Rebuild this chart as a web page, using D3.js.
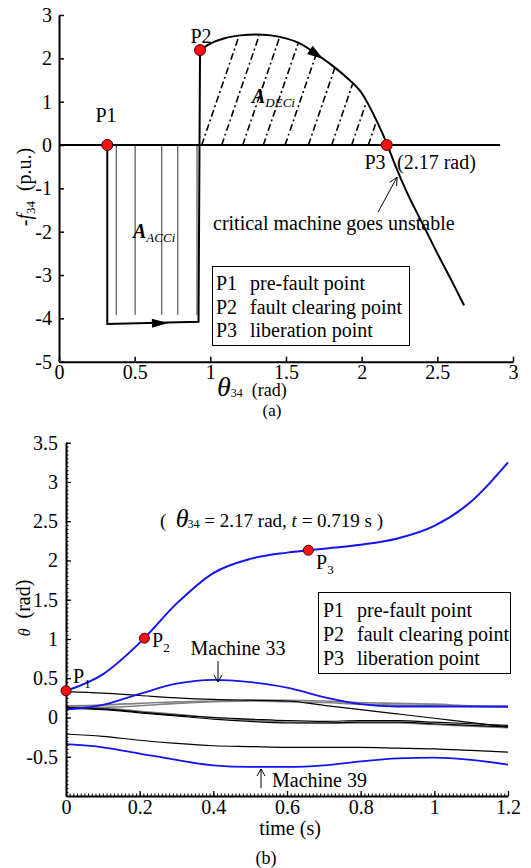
<!DOCTYPE html>
<html>
<head>
<meta charset="utf-8">
<script src="https://cdn.jsdelivr.net/npm/d3@7"></script>
<style>
  body { margin: 0; background: #fff; }
  svg { font-family: "Liberation Serif", "Times New Roman", serif; }
</style>
</head>
<body>
<svg width="531" height="868"></svg>
<script>
// ---------- panel (a) : -f34 vs theta34 ----------
const thetaTicksA = [0, 0.5, 1, 1.5, 2, 2.5, 3];
const fTicksA = [-5, -4, -3, -2, -1, 0, 1, 2, 3];

// fault-on trajectory (P1 -> down -> across -> up to P2)
const accTheta = [0.319, 0.319, 0.922, 0.932];
const accF     = [0, -4.13, -4.08, 2.19];

// post-fault trajectory from P2 through P3
const decTheta = [0.932, 1.0, 1.1, 1.2, 1.3, 1.4, 1.5, 1.6, 1.7, 1.8, 1.9, 2.0, 2.1, 2.17, 2.22, 2.3, 2.4, 2.5, 2.6, 2.677];
const decF     = [2.19, 2.34, 2.47, 2.53, 2.55, 2.53, 2.46, 2.33, 2.10, 1.85, 1.56, 1.20, 0.55, 0, -0.45, -1.1, -1.8, -2.5, -3.17, -3.7];

const accHatch = [0.378, 0.503, 0.679, 0.785, 0.912];
const decHatch = [0.943, 1.075, 1.214, 1.350, 1.494, 1.648, 1.802, 1.934, 2.044];

const pointNamesA = ["P1", "P2", "P3"];
const pointThetaA = [0.319, 0.932, 2.166];
const pointFA     = [0, 2.19, 0];

const legendKeys  = ["P1", "P2", "P3"];
const legendTexts = ["pre-fault point", "fault clearing point", "liberation point"];

// ---------- panel (b) : theta vs time ----------
const timeTicksB = [0, 0.2, 0.4, 0.6, 0.8, 1, 1.2];
const thetaTicksB = [-0.5, 0, 0.5, 1, 1.5, 2, 2.5, 3, 3.5];
const timeB = [0, 0.1, 0.2, 0.3, 0.4, 0.5, 0.6, 0.7, 0.8, 0.9, 1.0, 1.1, 1.2];

const critical = [0.34, 0.55, 0.95, 1.45, 1.84, 2.02, 2.10, 2.15, 2.20, 2.28, 2.44, 2.75, 3.25];
const machine33 = [0.10, 0.16, 0.30, 0.43, 0.48, 0.45, 0.38, 0.26, 0.17, 0.14, 0.14, 0.14, 0.14];
const machine39 = [-0.34, -0.38, -0.46, -0.54, -0.61, -0.63, -0.63, -0.61, -0.56, -0.52, -0.51, -0.54, -0.60];
const blackLines = [
  [0.33, 0.31, 0.28, 0.25, 0.23, 0.22, 0.21, 0.155, 0.10, 0.045, -0.01, -0.065, -0.12],
  [0.13, 0.11, 0.07, 0.03, 0.00, -0.02, -0.04, -0.05, -0.04, -0.04, -0.06, -0.08, -0.10],
  [0.12, 0.10, 0.06, 0.02, -0.02, -0.05, -0.07, -0.07, -0.06, -0.06, -0.08, -0.10, -0.12],
  [-0.21, -0.24, -0.29, -0.33, -0.36, -0.37, -0.38, -0.38, -0.38, -0.39, -0.40, -0.42, -0.44]
];
const greyLines = [
  [0.15, 0.16, 0.18, 0.20, 0.21, 0.22, 0.22, 0.21, 0.19, 0.18, 0.17, 0.15, 0.14],
  [0.13, 0.13, 0.15, 0.18, 0.20, 0.21, 0.20, 0.19, 0.17, 0.16, 0.15, 0.14, 0.13],
  [0.14, 0.12, 0.08, 0.04, 0.00, -0.03, -0.06, -0.07, -0.07, -0.07, -0.09, -0.11, -0.13]
];
const pointTimeB  = [0, 0.213, 0.658];
const pointThetaB = [0.34, 1.01, 2.13];

const BLUE = "#1414f0";
const RED  = "#ff1010";

const svg = d3.select("svg");
svg.append("rect").attr("width", 531).attr("height", 868).attr("fill", "#fff");

// ================= panel (a) =================
const xA = d3.scaleLinear().domain([0, 3]).range([59, 513]);
const yA = d3.scaleLinear().domain([-5, 3]).range([361.7, 15]);
const gA = svg.append("g");

// accelerating-area hatch (thin verticals)
gA.selectAll(".acch")
  .data(accHatch)
  .enter()
  .append("line")
  .attr("x1", d => xA(d)).attr("x2", d => xA(d))
  .attr("y1", yA(0)).attr("y2", yA(-3.92))
  .attr("stroke", "#333").attr("stroke-width", 1);

// decelerating-area hatch (dash-dot slanted lines, stop at curve)
const curveAt = th => {
  for (let i = 0; i < decTheta.length - 1; i++) {
    if (th >= decTheta[i] && th <= decTheta[i + 1]) {
      const k = (th - decTheta[i]) / (decTheta[i + 1] - decTheta[i]);
      return decF[i] + k * (decF[i + 1] - decF[i]);
    }
  }
  return 0;
};
decHatch.forEach(b => {
  let f = 0, th = b;
  while (f < curveAt(th) - 0.02 && f < 3) { f += 0.01; th = b + 0.098 * f; }
  gA.append("line")
    .attr("x1", xA(b)).attr("y1", yA(0))
    .attr("x2", xA(th)).attr("y2", yA(f))
    .attr("stroke", "#000").attr("stroke-width", 1.6)
    .attr("stroke-dasharray", "7,3,2,3");
});

// zero line
gA.append("line")
  .attr("x1", xA(0)).attr("x2", xA(2.915))
  .attr("y1", yA(0)).attr("y2", yA(0))
  .attr("stroke", "#000").attr("stroke-width", 2);

// trajectories
const lineA = d3.line().x(d => xA(d[0])).y(d => yA(d[1]));
gA.append("path")
  .attr("d", lineA(accTheta.map((t, i) => [t, accF[i]])))
  .attr("fill", "none").attr("stroke", "#000").attr("stroke-width", 2);
gA.append("path")
  .attr("d", lineA.curve(d3.curveMonotoneX)(decTheta.map((t, i) => [t, decF[i]])))
  .attr("fill", "none").attr("stroke", "#000").attr("stroke-width", 2);

// direction arrows
const arrowHead = (g, x0, y0, x1, y1, len, half) => {
  const a = Math.atan2(y1 - y0, x1 - x0);
  const bx = x1 - len * Math.cos(a), by = y1 - len * Math.sin(a);
  const px = -Math.sin(a) * half, py = Math.cos(a) * half;
  g.append("path")
    .attr("d", `M${x1},${y1}L${bx + px},${by + py}L${bx - px},${by - py}Z`)
    .attr("fill", "#000");
};
arrowHead(gA, xA(0.60), yA(-4.115), xA(0.72), yA(-4.105), 16, 4.5);
arrowHead(gA, xA(1.66), yA(curveAt(1.66)), xA(1.745), yA(curveAt(1.745)), 16, 5);

// axes
const axA_x = gA.append("g")
  .attr("transform", `translate(0,${yA(-5)})`)
  .call(d3.axisBottom(xA).tickValues(thetaTicksA).tickSizeInner(-5).tickSizeOuter(0).tickPadding(3)
    .tickFormat(d => String(d)));
const axA_y = gA.append("g")
  .attr("transform", `translate(${xA(0)},0)`)
  .call(d3.axisLeft(yA).tickValues(fTicksA).tickSizeInner(-5).tickSizeOuter(0).tickPadding(7)
    .tickFormat(d => String(d)));
[axA_x, axA_y].forEach(ax => {
  ax.select(".domain").attr("stroke-width", 2);
  ax.selectAll(".tick line").attr("stroke-width", 1.5);
  ax.selectAll("text").attr("font-size", 20).attr("font-family", "Liberation Serif").attr("fill", "#000");
});

// points
gA.selectAll(".ptA")
  .data(pointNamesA)
  .enter()
  .append("circle")
  .attr("cx", (d, i) => xA(pointThetaA[i]))
  .attr("cy", (d, i) => yA(pointFA[i]))
  .attr("r", 5.5)
  .attr("fill", RED).attr("stroke", "#400").attr("stroke-width", 1);

const txt = (g, x, y, s, size, anchor) =>
  g.append("text").attr("x", x).attr("y", y).attr("font-size", size || 20)
   .attr("text-anchor", anchor || "start").text(s);

txt(gA, 106, 122, "P1", 20, "middle");
txt(gA, 201, 43, "P2", 20, "middle");
txt(gA, 375, 169, "P3", 20, "middle");
txt(gA, 397, 169, "(2.17 rad)", 20);
txt(gA, 213, 230, "critical machine goes unstable", 20);

// annotation arrow (open head)
const ax0 = xA(2.108), ay0 = yA(-1.55), ax1 = xA(2.234), ay1 = yA(-0.74);
gA.append("line").attr("x1", ax0).attr("y1", ay0).attr("x2", ax1).attr("y2", ay1)
  .attr("stroke", "#000").attr("stroke-width", 1);
(() => {
  const a = Math.atan2(ay1 - ay0, ax1 - ax0);
  [0.45, -0.45].forEach(s => {
    gA.append("line").attr("x1", ax1).attr("y1", ay1)
      .attr("x2", ax1 - 9 * Math.cos(a + s)).attr("y2", ay1 - 9 * Math.sin(a + s))
      .attr("stroke", "#000").attr("stroke-width", 1);
  });
})();

// area labels
const areaLabel = (g, x, y, sub) => {
  const t = g.append("text").attr("x", x).attr("y", y).attr("font-size", 20);
  t.append("tspan").attr("font-weight", "bold").attr("font-style", "italic").text("A");
  t.append("tspan").attr("font-style", "italic").attr("font-size", 13).attr("dy", 4).text(sub);
};
areaLabel(gA, 133, 238, "ACCi");
areaLabel(gA, 252, 103, "DECi");

// legend (a)
const legA = gA.append("g");
legA.append("rect").attr("x", 212.5).attr("y", 266.5).attr("width", 197).attr("height", 79)
  .attr("fill", "#fff").attr("stroke", "#000").attr("stroke-width", 1);
legendKeys.forEach((k, i) => {
  txt(legA, 216, 290 + i * 23.5, k, 20);
  txt(legA, 250, 290 + i * 23.5, legendTexts[i], 20);
});

// axis titles (a)
(() => {
  const t = gA.append("text").attr("transform", "translate(31,187) rotate(-90)")
    .attr("text-anchor", "middle").attr("font-size", 20);
  t.append("tspan").text("-");
  t.append("tspan").attr("font-style", "italic").text("f");
  t.append("tspan").attr("font-size", 13).attr("dy", 4).text("34");
  t.append("tspan").attr("dy", -4).text("\u00a0\u00a0(p.u.)");
  const x = gA.append("text").attr("x", 217).attr("y", 396).attr("font-size", 18);
  x.append("tspan").attr("font-style", "italic").attr("font-size", 28).text("\u03b8");
  x.append("tspan").attr("font-size", 12).attr("dy", 1).text("34");
  x.append("tspan").attr("dy", -1).text("\u00a0\u00a0(rad)");
  txt(gA, 272, 416, "(a)", 17, "middle");
})();

// ================= panel (b) =================
const xB = d3.scaleLinear().domain([0, 1.2]).range([66, 508]);
const yB = d3.scaleLinear().domain([-1, 3.5]).range([796, 442.7]);
const gB = svg.append("g");
const lineB = d3.line().curve(d3.curveMonotoneX).x((d, i) => xB(timeB[i])).y(d => yB(d));

gB.selectAll(".grey")
  .data(greyLines)
  .enter()
  .append("path")
  .attr("d", d => lineB(d))
  .attr("fill", "none").attr("stroke", "#808080").attr("stroke-width", 1.6);
gB.selectAll(".black")
  .data(blackLines)
  .enter()
  .append("path")
  .attr("d", d => lineB(d))
  .attr("fill", "none").attr("stroke", "#000").attr("stroke-width", 1.2);
gB.selectAll(".blue")
  .data([machine33, machine39, critical])
  .enter()
  .append("path")
  .attr("d", d => lineB(d))
  .attr("fill", "none").attr("stroke", BLUE).attr("stroke-width", (d, i) => i === 2 ? 2 : 1.8);

// axes with minor ticks
const minorX = d3.range(0, 1.2001, 0.01);
const minorY = d3.range(-1, 3.5001, 0.05);
gB.append("g").attr("transform", `translate(0,${yB(-1)})`)
  .call(d3.axisBottom(xB).tickValues(minorX).tickSizeInner(-2.5).tickSizeOuter(0).tickFormat(""))
  .call(g => g.select(".domain").remove());
gB.append("g").attr("transform", `translate(${xB(0)},0)`)
  .call(d3.axisLeft(yB).tickValues(minorY).tickSizeInner(-2.5).tickSizeOuter(0).tickFormat(""))
  .call(g => g.select(".domain").remove());
const axB_x = gB.append("g").attr("transform", `translate(0,${yB(-1)})`)
  .call(d3.axisBottom(xB).tickValues(timeTicksB).tickSizeInner(-5).tickSizeOuter(0).tickPadding(4)
    .tickFormat(d => String(d)));
const axB_y = gB.append("g").attr("transform", `translate(${xB(0)},0)`)
  .call(d3.axisLeft(yB).tickValues(thetaTicksB).tickSizeInner(-5).tickSizeOuter(0).tickPadding(8)
    .tickFormat(d => String(d)));
[axB_x, axB_y].forEach(ax => {
  ax.select(".domain").attr("stroke-width", 2);
  ax.selectAll(".tick line").attr("stroke-width", 1.3);
  ax.selectAll("text").attr("font-size", 20).attr("font-family", "Liberation Serif").attr("fill", "#000");
});

// points
gB.selectAll(".ptB")
  .data(pointTimeB)
  .enter()
  .append("circle")
  .attr("cx", d => xB(d))
  .attr("cy", (d, i) => yB(pointThetaB[i]))
  .attr("r", 5)
  .attr("fill", RED).attr("stroke", "#400").attr("stroke-width", 1);

const subLabel = (g, x, y, main, sub) => {
  const t = g.append("text").attr("x", x).attr("y", y).attr("font-size", 20);
  t.append("tspan").text(main);
  t.append("tspan").attr("font-size", 13).attr("dy", 5).text(sub);
};
subLabel(gB, 73, 683, "P", "1");
subLabel(gB, 152, 647, "P", "2");
subLabel(gB, 316, 569, "P", "3");

// annotation
(() => {
  const t = gB.append("text").attr("x", 160).attr("y", 527).attr("font-size", 19);
  t.append("tspan").text("(\u00a0\u00a0");
  t.append("tspan").attr("font-style", "italic").attr("font-size", 26).text("\u03b8");
  t.append("tspan").attr("font-size", 12).attr("dy", 1).attr("dx", -1).text("34");
  t.append("tspan").attr("dy", -1).text(" = 2.17 rad, ");
  t.append("tspan").attr("font-style", "italic").text("t");
  t.append("tspan").text(" = 0.719 s\u00a0)");
})();

txt(gB, 238, 655, "Machine 33", 20, "middle");
txt(gB, 272, 787, "Machine 39", 20);
const simpleArrow = (g, x, y0, y1) => {
  g.append("line").attr("x1", x).attr("x2", x).attr("y1", y0).attr("y2", y1)
    .attr("stroke", "#000").attr("stroke-width", 1);
  const d = y1 > y0 ? -1 : 1;
  [-4, 4].forEach(s => g.append("line").attr("x1", x).attr("y1", y1)
    .attr("x2", x + s).attr("y2", y1 + d * 7).attr("stroke", "#000").attr("stroke-width", 1));
};
simpleArrow(gB, 218, 661, 682);
simpleArrow(gB, 261, 788, 769);

// legend (b)
const legB = gB.append("g");
legB.append("rect").attr("x", 318.5).attr("y", 592.5).attr("width", 192).attr("height", 81)
  .attr("fill", "#fff").attr("stroke", "#000").attr("stroke-width", 1);
legendKeys.forEach((k, i) => {
  txt(legB, 323, 617 + i * 24, k, 20);
  txt(legB, 357, 617 + i * 24, legendTexts[i], 20);
});

// axis titles (b)
(() => {
  const t = gB.append("text").attr("transform", "translate(30,608) rotate(-90)")
    .attr("text-anchor", "middle").attr("font-size", 20);
  t.append("tspan").attr("font-style", "italic").attr("font-size", 16).text("\u03b8");
  t.append("tspan").text("\u00a0\u00a0(rad)");
  txt(gB, 290, 835, "time (s)", 20, "middle");
  txt(gB, 266, 864, "(b)", 18, "middle");
})();
</script>
</body>
</html>
